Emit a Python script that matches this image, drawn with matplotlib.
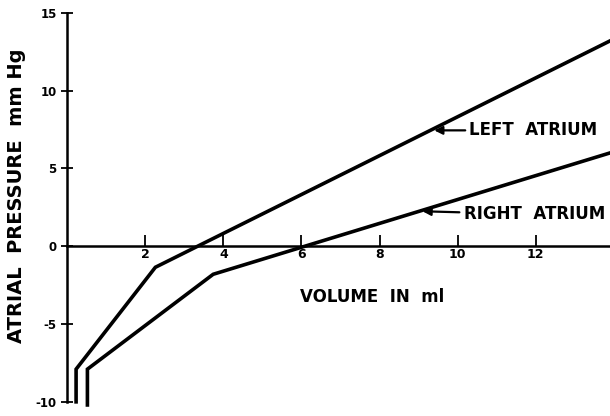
import matplotlib.pyplot as plt

# pressure-volume curves of the two atria
left_vol = [0.23, 0.23, 2.26, 13.9]
left_pres = [-10.0, -7.9, -1.35, 13.2]
right_vol = [0.52, 0.52, 3.74, 13.9]
right_pres = [-10.2, -7.9, -1.8, 6.0]

x_ticks = [2, 4, 6, 8, 10, 12]
y_ticks = [-10, -5, 0, 5, 10, 15]
y_labels = ["-10", "-5", "0", "5", "10", "15"]

plt.rcParams["font.family"] = "DejaVu Sans"
plt.rcParams["font.weight"] = "bold"

fig = plt.figure(figsize=(6.1, 4.16), dpi=100)
ax = fig.add_axes([0.11, 0.034, 0.89, 0.935])

ax.plot(left_vol, left_pres, color="black", lw=2.6, clip_on=False, solid_joinstyle="miter")
ax.plot(right_vol, right_pres, color="black", lw=2.6, clip_on=False, solid_joinstyle="miter")

ax.set_xlim(0, 13.9)
ax.set_ylim(-10, 15)

# axes: vertical on the left, horizontal through zero
ax.spines["top"].set_visible(False)
ax.spines["right"].set_visible(False)
ax.spines["left"].set_linewidth(1.8)
ax.spines["bottom"].set_position(("data", 0))
ax.spines["bottom"].set_linewidth(1.8)

ax.set_xticks(x_ticks)
ax.set_xticklabels([str(t) for t in x_ticks], fontsize=9, fontweight="bold")
ax.tick_params(axis="x", direction="in", length=8, width=1.3, pad=1)

ax.set_yticks(y_ticks)
ax.set_yticklabels(y_labels, fontsize=8.5, fontweight="bold")
ax.tick_params(axis="y", direction="inout", length=9, width=1.3, pad=3)

ax.set_ylabel("ATRIAL  PRESSURE  mm Hg", fontsize=14, fontweight="bold")
ax.yaxis.set_label_coords(-0.075, 0.53)
ax.text(7.8, -3.25, "VOLUME  IN  ml", fontsize=12, fontweight="bold", ha="center", va="center")

ax.annotate("LEFT  ATRIUM", xy=(9.4, 7.45), xytext=(10.3, 7.45), fontsize=12,
            fontweight="bold", va="center", annotation_clip=False,
            arrowprops=dict(arrowstyle="-|>", color="black", lw=1.6, shrinkA=1, shrinkB=0))
ax.annotate("RIGHT  ATRIUM", xy=(9.1, 2.25), xytext=(10.15, 2.05), fontsize=12,
            fontweight="bold", va="center", annotation_clip=False,
            arrowprops=dict(arrowstyle="-|>", color="black", lw=1.6, shrinkA=1, shrinkB=0))

fig.savefig("out.png", dpi=100)
